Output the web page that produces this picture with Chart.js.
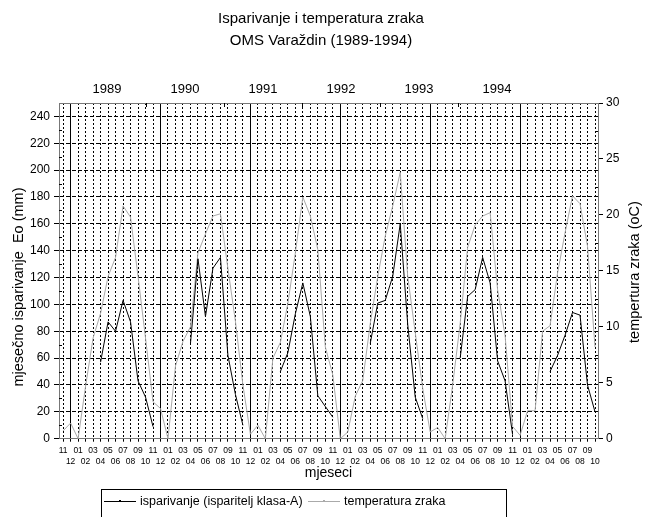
<!DOCTYPE html>
<html>
<head>
<meta charset="utf-8">
<script src="https://cdn.jsdelivr.net/npm/chart.js@4.4.1/dist/chart.umd.min.js"></script>
<style>
  body { margin: 0; background: #fff; font-family: 'Liberation Sans', Arial, sans-serif; }
  #wrap { position: relative; width: 650px; height: 517px; overflow: hidden; }
  #title { position: absolute; left: 0; top: 7px; width: 642px; text-align: center; font-size: 15px; line-height: 22px; color: #000; }
  #legend { position: absolute; left: 101px; top: 489px; width: 404px; height: 40px; border: 1px solid #000; font-size: 12.5px; color: #000; }
  #legend .item { position: absolute; top: 4px; white-space: nowrap; }
  #legend .ln { display: inline-block; width: 32px; height: 0; border-top: 1px solid #000; vertical-align: middle; margin-right: 4px; position: relative; }
  #legend .ln i { position: absolute; left: 15px; top: -2px; width: 2px; height: 2px; background: inherit; }
</style>
</head>
<body>
<div id="wrap">
  <canvas id="chart" width="650" height="517"></canvas>
  <div id="title">Isparivanje i temperatura zraka<br>OMS Varaždin (1989-1994)</div>
  <div id="legend">
    <span class="item" style="left:2px"><span class="ln" style="border-color:#000"><i style="background:#000"></i></span>isparivanje (isparitelj klasa-A)</span>
    <span class="item" style="left:206px"><span class="ln" style="border-color:#aaa"><i style="background:#aaa"></i></span>temperatura zraka</span>
  </div>
</div>
<script>
// mjeseci od 11/1988 do 10/1994
const monthLabels = [
  '11', '12',
  '01', '02', '03', '04', '05', '06', '07', '08', '09', '10', '11', '12',
  '01', '02', '03', '04', '05', '06', '07', '08', '09', '10', '11', '12',
  '01', '02', '03', '04', '05', '06', '07', '08', '09', '10', '11', '12',
  '01', '02', '03', '04', '05', '06', '07', '08', '09', '10', '11', '12',
  '01', '02', '03', '04', '05', '06', '07', '08', '09', '10', '11', '12',
  '01', '02', '03', '04', '05', '06', '07', '08', '09', '10'
];
const years = [1989, 1990, 1991, 1992, 1993, 1994];

// mjesečno isparivanje Eo (mm)
const evaporation = [
  null, null,
  null, null, null, 57, 87, 80, 103, 87, 43, 31, 9, null,
  null, null, null, 71, 134, 91, 127, 135, 62, 33, 10, null,
  null, null, null, 50, 64, 93, 116, 91, 32, 24, 16, null,
  null, null, null, 71, 101, 103, 121, 160, 85, 31, 15, null,
  null, null, null, 60, 106, 111, 135, 116, 58, 43, 3, null,
  null, null, null, 50, 62, 77, 94, 92, 40, 20
];

// temperatura zraka (oC)
const temperature = [
  0.7, 1.4,
  0, 4.7, 9.0, 11.2, 14.5, 16.2, 20.8, 19.8, 14.5, 9.0, 3.3, 2.7,
  0, 6.5, 8.7, 10.0, 16.6, 18.3, 19.9, 20.1, 15.2, 10.5, 4.8, 0.4,
  1.2, 0, 7.2, 8.6, 12.1, 16.6, 21.6, 19.9, 16.9, 8.2, 5.7, 0,
  0.6, 3.8, 5.2, 10.3, 14.5, 18.1, 20.8, 23.8, 14.5, 9.5, 4.5, 0.6,
  1.0, 0, 4.8, 10.3, 17.1, 19.1, 19.9, 20.2, 13.3, 9.2, 1.1, 0.3,
  2.5, 2.5, 9.6, 10.1, 14.8, 18.4, 21.7, 21.0, 17.2, 8.2
];

const evapTicks = [0, 20, 40, 60, 80, 100, 120, 140, 160, 180, 200, 220, 240];
const tempTicks = [0, 5, 10, 15, 20, 25, 30];

const leftTitle = 'mjesečno isparivanje  Eo (mm)';
const rightTitle = 'tempertura zraka (oC)';
const FONT = "'Liberation Sans', Arial, sans-serif";

// sitne oznake, naslovi osi sa strane
const decor = {
  id: 'decor',
  afterDraw(chart) {
    const { ctx, chartArea: a, scales } = chart;
    ctx.save();
    ctx.strokeStyle = '#000';
    ctx.lineWidth = 1;
    ctx.beginPath();
    for (let v = 10; v < 250; v += 20) {
      const y = Math.round(scales.y.getPixelForValue(v)) + 0.5;
      ctx.moveTo(a.left, y); ctx.lineTo(a.left + 3, y);
    }
    for (let v = 2.5; v < 30; v += 5) {
      const y = Math.round(scales.y1.getPixelForValue(v)) + 0.5;
      ctx.moveTo(a.right, y); ctx.lineTo(a.right - 3, y);
    }
    for (let yr = years[0] + 0.5; yr < years[years.length - 1]; yr++) {
      const x = Math.round(scales.x2.getPixelForValue(yr)) + 0.5;
      ctx.moveTo(x, a.top); ctx.lineTo(x, a.top + 4);
    }
    ctx.stroke();

    ctx.fillStyle = '#000';
    ctx.font = '14.5px ' + FONT;
    ctx.textAlign = 'center';
    ctx.textBaseline = 'middle';
    ctx.save();
    ctx.translate(19, 287);
    ctx.rotate(-Math.PI / 2);
    ctx.fillText(leftTitle, 0, 0);
    ctx.restore();
    ctx.translate(635, 272);
    ctx.rotate(-Math.PI / 2);
    ctx.fillText(rightTitle, 0, 0);
    ctx.restore();
  }
};

new Chart(document.getElementById('chart'), {
  type: 'line',
  data: {
    datasets: [
      {
        label: 'isparivanje (isparitelj klasa-A)',
        data: evaporation.map((v, i) => ({ x: i, y: v })),
        borderColor: '#000',
        borderWidth: 1,
        pointRadius: 0,
        tension: 0,
        spanGaps: false,
        yAxisID: 'y'
      },
      {
        label: 'temperatura zraka',
        data: temperature.map((v, i) => ({ x: i, y: v })),
        borderColor: '#aaa',
        borderWidth: 1,
        pointRadius: 0,
        tension: 0,
        yAxisID: 'y1'
      }
    ]
  },
  options: {
    responsive: false,
    animation: false,
    devicePixelRatio: 1,
    layout: { padding: 0 },
    plugins: {
      legend: { display: false },
      title: { display: false },
      tooltip: { enabled: false }
    },
    scales: {
      x: {
        type: 'linear',
        position: 'bottom',
        min: -0.55,
        max: 71.4,
        afterBuildTicks: s => { s.ticks = monthLabels.map((_, i) => ({ value: i })); },
        afterFit: s => { s.height = 78.3; },
        ticks: {
          autoSkip: false,
          maxRotation: 0,
          padding: 4,
          color: '#000',
          font: { family: FONT, size: 8.5, lineHeight: 1.25 },
          callback: v => (v % 2 === 0 ? [monthLabels[v], ''] : ['', monthLabels[v]])
        },
        grid: {
          color: '#000',
          lineWidth: 1,
          tickLength: 3
        },
        border: {
          color: '#777',
          dash: c => (c.tick && c.tick.value % 12 === 1 ? [] : [2, 2])
        },
        title: {
          display: true,
          text: 'mjeseci',
          color: '#000',
          font: { family: FONT, size: 14 },
          padding: { top: 0, bottom: 35 }
        }
      },
      x2: {
        type: 'linear',
        position: 'top',
        min: 1988.385,
        max: 1995.295,
        afterBuildTicks: s => { s.ticks = years.map(v => ({ value: v })); },
        afterFit: s => { s.height = 103; },
        ticks: {
          color: '#000',
          padding: 6,
          font: { family: FONT, size: 13 },
          callback: v => String(v)
        },
        grid: { drawOnChartArea: false, drawTicks: false },
        border: { color: '#777' }
      },
      y: {
        type: 'linear',
        position: 'left',
        min: 0,
        max: 250,
        afterBuildTicks: s => { s.ticks = evapTicks.map(v => ({ value: v })); },
        afterFit: s => { s.width = 59; },
        ticks: {
          color: '#000',
          padding: 4,
          font: { family: FONT, size: 12 }
        },
        grid: {
          color: '#000',
          lineWidth: 1,
          tickLength: 5
        },
        border: { color: '#777', dash: [4, 2] }
      },
      y1: {
        type: 'linear',
        position: 'right',
        min: 0,
        max: 30,
        afterBuildTicks: s => { s.ticks = tempTicks.map(v => ({ value: v })); },
        afterFit: s => { s.width = 52; },
        ticks: {
          color: '#000',
          padding: 3,
          font: { family: FONT, size: 12 }
        },
        grid: {
          drawOnChartArea: false,
          color: '#000',
          tickLength: 5
        },
        border: { color: '#777' }
      }
    }
  },
  plugins: [decor]
});
</script>
</body>
</html>
